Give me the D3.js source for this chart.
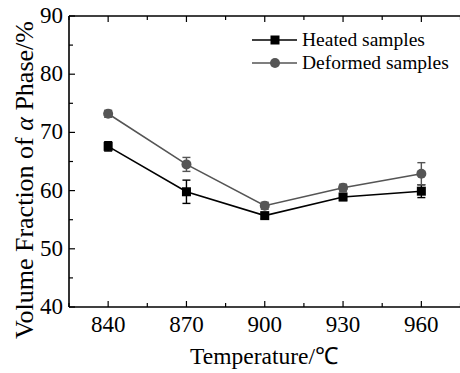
<!DOCTYPE html>
<html><head><meta charset="utf-8">
<script src="https://cdn.jsdelivr.net/npm/d3@7"></script>
<style>body{margin:0;background:#fff}svg{display:block}</style>
</head><body>
<script>
const temps = [840, 870, 900, 930, 960];
const heated = [67.6, 59.8, 55.7, 58.9, 59.9];
const heatedErr = [0.8, 2.0, 0.5, 0.6, 1.1];
const deformed = [73.2, 64.5, 57.4, 60.5, 62.9];
const deformedErr = [0.6, 1.2, 0.6, 0.6, 1.9];
const yTicks = [40, 50, 60, 70, 80, 90];
const xTicks = [840, 870, 900, 930, 960];
const seriesNames = ["Heated samples", "Deformed samples"];

const FONT = "'Times New Roman', 'Liberation Serif', Tinos, serif";
const W = 460, H = 373;
const svg = d3.select("body").append("svg").attr("width", W).attr("height", H).style("font-family", FONT);
const x = d3.scaleLinear().domain([825, 975]).range([69, 460.5]);
const y = d3.scaleLinear().domain([40, 90]).range([307, 16]);

const g = svg.append("g");
const ax = x.range(), ay = y.range();
g.append("line").attr("x1", ax[0]).attr("x2", ax[1]).attr("y1", ay[0]).attr("y2", ay[0]).attr("stroke", "#000").attr("stroke-width", 1.6);
g.append("line").attr("x1", ax[0]).attr("x2", ax[1]).attr("y1", ay[1]).attr("y2", ay[1]).attr("stroke", "#000").attr("stroke-width", 1.6);
g.append("line").attr("x1", ax[0]).attr("x2", ax[0]).attr("y1", ay[0]).attr("y2", ay[1]).attr("stroke", "#000").attr("stroke-width", 1.6);

d3.range(825, 976, 15).forEach(v => {
  const len = xTicks.includes(v) ? 6 : 4;
  g.append("line").attr("x1", x(v)).attr("x2", x(v)).attr("y1", ay[0]).attr("y2", ay[0] - len).attr("stroke", "#000").attr("stroke-width", 1.2);
  g.append("line").attr("x1", x(v)).attr("x2", x(v)).attr("y1", ay[1]).attr("y2", ay[1] + len).attr("stroke", "#000").attr("stroke-width", 1.2);
});
d3.range(40, 91, 5).forEach(v => {
  const major = yTicks.includes(v);
  g.append("line").attr("x1", ax[0]).attr("x2", ax[0] + (major ? 6 : 4)).attr("y1", y(v)).attr("y2", y(v)).attr("stroke", "#000").attr("stroke-width", 1.2);
});
xTicks.forEach(v => {
  g.append("text").attr("x", x(v)).attr("y", 332).attr("text-anchor", "middle").style("font-size", "23px").style("font-family", FONT).text(v);
});
yTicks.forEach(v => {
  g.append("text").attr("x", 63).attr("y", y(v) + 7).attr("text-anchor", "end").style("font-size", "23px").style("font-family", FONT).text(v);
});
svg.append("text").attr("x", 264).attr("y", 364).attr("text-anchor", "middle").style("font-size", "23.5px").style("font-family", FONT).text("Temperature/℃");
const yl = svg.append("text").attr("transform", "translate(33,180) rotate(-90)").attr("text-anchor", "middle").style("font-size", "26px").style("font-family", FONT);
yl.append("tspan").text("Volume Fraction of ");
yl.append("tspan").style("font-style", "italic").text("α");
yl.append("tspan").text(" Phase/%");

function drawMarker(sel, cx, cy, color, shape) {
  if (shape === "square") sel.append("rect").attr("x", cx - 4.5).attr("y", cy - 4.5).attr("width", 9).attr("height", 9).attr("fill", color);
  else sel.append("circle").attr("cx", cx).attr("cy", cy).attr("r", 5).attr("fill", color);
}
function drawSeries(vals, errs, color, shape) {
  const pts = temps.map((t, i) => ({t, v: vals[i], e: errs[i]}));
  svg.append("path").datum(pts).attr("fill", "none").attr("stroke", color).attr("stroke-width", 1.6)
    .attr("d", d3.line().x(d => x(d.t)).y(d => y(d.v)));
  const eg = svg.append("g").attr("stroke", color).attr("stroke-width", 1.4);
  pts.forEach(d => {
    eg.append("line").attr("x1", x(d.t)).attr("x2", x(d.t)).attr("y1", y(d.v - d.e)).attr("y2", y(d.v + d.e));
    [d.v - d.e, d.v + d.e].forEach(vv => eg.append("line").attr("x1", x(d.t) - 4).attr("x2", x(d.t) + 4).attr("y1", y(vv)).attr("y2", y(vv)));
  });
  pts.forEach(d => drawMarker(svg, x(d.t), y(d.v), color, shape));
}
drawSeries(heated, heatedErr, "#000", "square");
drawSeries(deformed, deformedErr, "#555", "circle");

const legend = [{name: seriesNames[0], color: "#000", shape: "square", y: 40}, {name: seriesNames[1], color: "#555", shape: "circle", y: 63}];
legend.forEach(l => {
  svg.append("line").attr("x1", 252).attr("x2", 297).attr("y1", l.y).attr("y2", l.y).attr("stroke", l.color).attr("stroke-width", 1.6);
  drawMarker(svg, 275, l.y, l.color, l.shape);
  svg.append("text").attr("x", 302).attr("y", l.y + 6).style("font-size", "19.5px").style("font-family", FONT).text(l.name);
});
</script>
</body></html>
